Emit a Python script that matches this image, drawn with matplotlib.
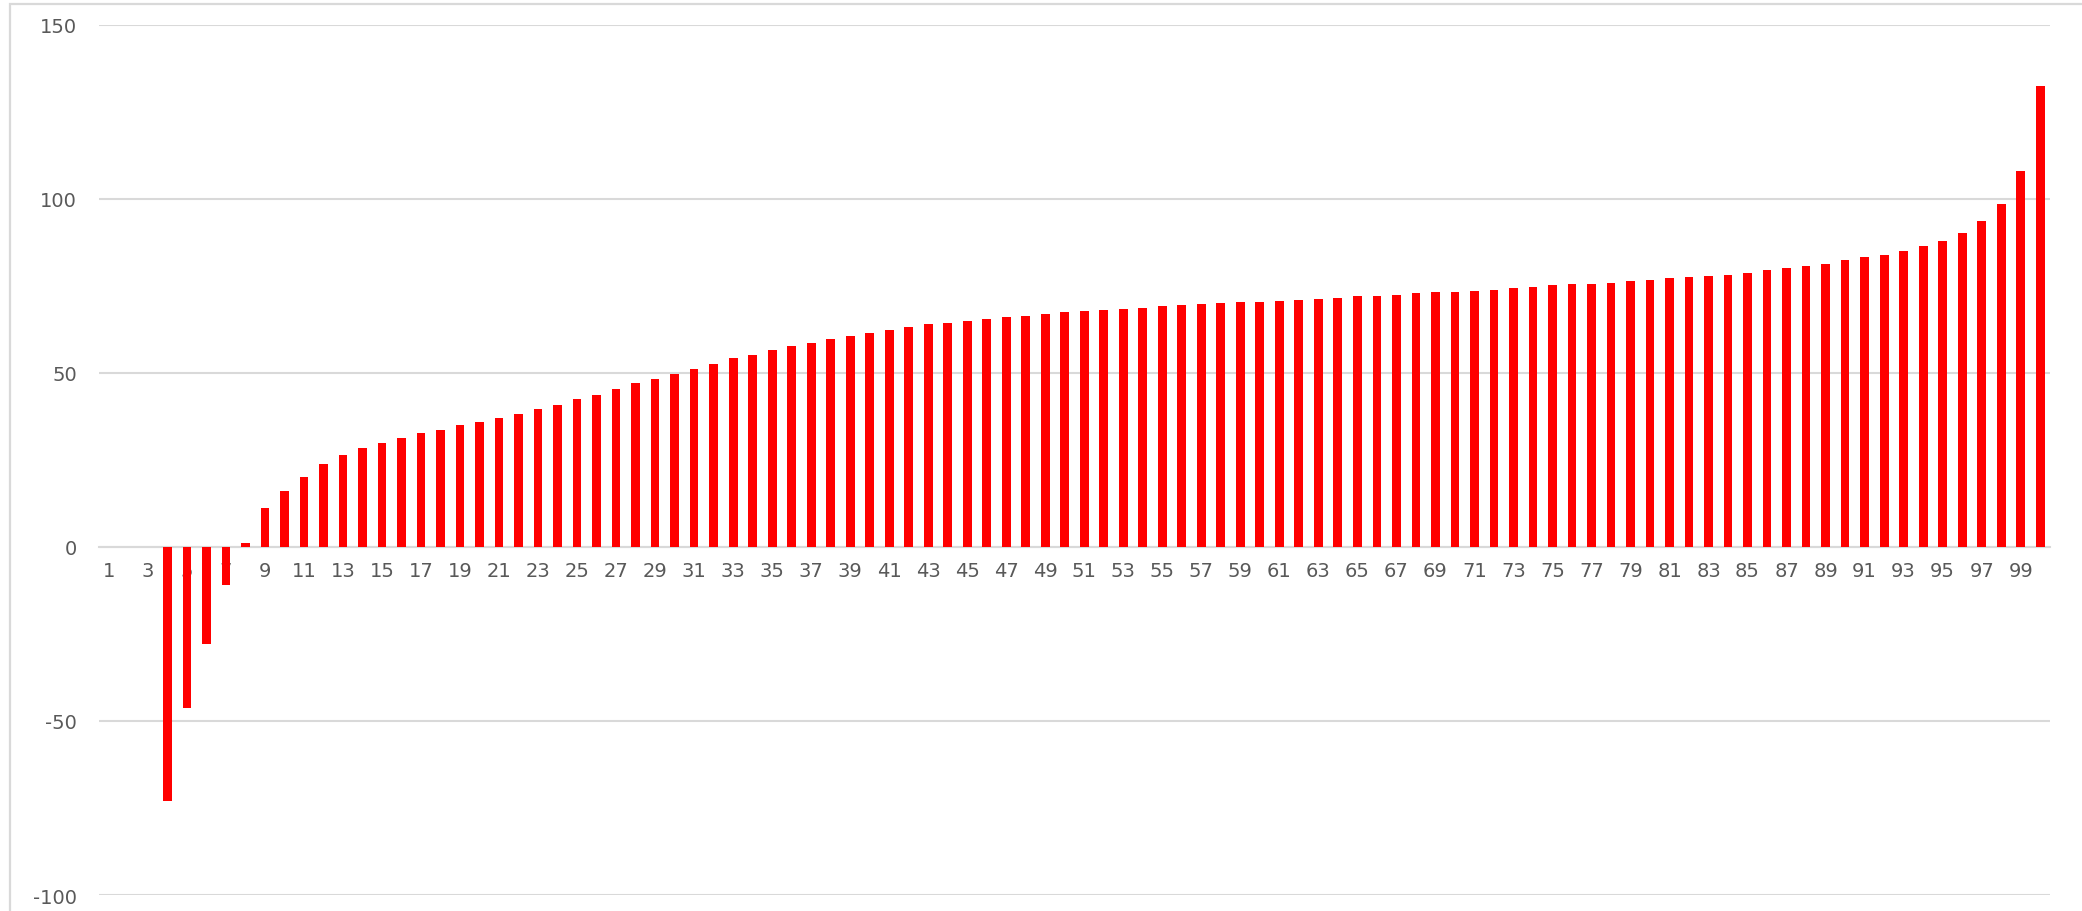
import matplotlib
matplotlib.use("Agg")
import matplotlib.pyplot as plt
from matplotlib.patches import Rectangle

plt.rcParams["axes.unicode_minus"] = False   # excel shows plain hyphen for negatives

# ------------------------------------  data  ------------------------------------
categories = list(range(1, 101))
values = [
    0, 0, 0, -73.0, -46.4, -27.8, -11.0, 1.2, 11.2, 16.0,
    20.0, 23.7, 26.4, 28.4, 29.9, 31.4, 32.7, 33.7, 34.9, 35.9,
    37.0, 38.2, 39.5, 40.9, 42.4, 43.7, 45.3, 47.0, 48.3, 49.8,
    51.2, 52.5, 54.2, 55.2, 56.5, 57.6, 58.5, 59.7, 60.7, 61.5,
    62.4, 63.1, 63.9, 64.4, 65.0, 65.5, 66.0, 66.3, 66.8, 67.4,
    67.9, 68.1, 68.4, 68.6, 69.2, 69.5, 69.8, 70.1, 70.3, 70.4,
    70.6, 70.9, 71.2, 71.4, 72.0, 72.0, 72.3, 72.8, 73.1, 73.3,
    73.6, 73.9, 74.3, 74.7, 75.2, 75.5, 75.6, 75.9, 76.5, 76.7,
    77.2, 77.5, 77.8, 78.2, 78.8, 79.4, 80.1, 80.6, 81.4, 82.3,
    83.3, 83.8, 85.0, 86.4, 88.0, 90.1, 93.6, 98.4, 108.0, 132.3,
]
x_tick_labels = [str(c) for c in categories[::2]]
y_ticks = [-100, -50, 0, 50, 100, 150]

grid_col = "#d9d9d9"
text_col = "#595959"

# ------------------------------------  figure  ------------------------------------
fig = plt.figure(figsize=(20.82, 9.12), dpi=100)
ax = fig.add_axes([0.0476, 0.0175, 0.937, 0.9543])

ax.bar(categories, values, width=0.45, color="#ff0000", zorder=3)

ax.set_xlim(0.5, 100.5)
ax.set_ylim(-100, 150)
ax.set_yticks(y_ticks)
ax.set_xticks(categories[::2])
ax.set_xticklabels(x_tick_labels)

# gridlines + axis at zero like excel
ax.grid(axis="y", color=grid_col, linewidth=1.5, zorder=0)
for side in ["top", "right", "left"]:
    ax.spines[side].set_visible(False)
ax.spines["bottom"].set_position(("data", 0))
ax.spines["bottom"].set_color(grid_col)
ax.spines["bottom"].set_linewidth(1.5)
ax.spines["bottom"].set_zorder(1)

ax.tick_params(axis="x", length=0, pad=10, labelsize=14, labelcolor=text_col)
ax.tick_params(axis="y", length=0, pad=16, labelsize=14, labelcolor=text_col)

# chart border
fig.add_artist(Rectangle((10 / 2082, -0.1), 1.2, 1.1 - 5 / 912, transform=fig.transFigure,
                         fill=False, edgecolor=grid_col, linewidth=1.6))

fig.savefig("out.png", dpi=100)
